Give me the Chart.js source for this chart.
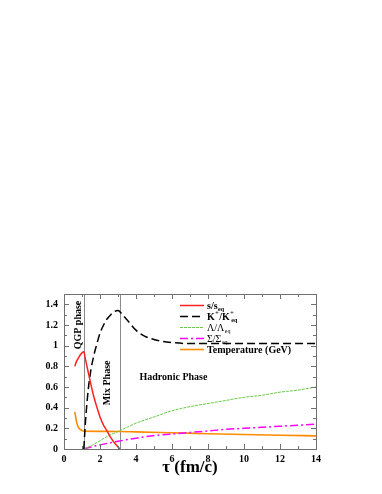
<!DOCTYPE html>
<html>
<head>
<meta charset="utf-8">
<script src="https://cdn.jsdelivr.net/npm/chart.js@4/dist/chart.umd.min.js"></script>
<style>
html,body{margin:0;padding:0;background:#fff;}
canvas{display:block;}
</style>
</head>
<body>
<canvas id="c" width="382" height="494"></canvas>
<script>
// ---- data ----
const tauS   = [0.6, 0.7, 0.8, 0.9, 1.0, 1.1, 1.2, 1.35, 1.5, 1.65, 1.8, 2.0, 2.2, 2.4, 2.6, 2.8, 3.0, 3.1];
const sRatio = [0.80, 0.85, 0.88, 0.91, 0.93, 0.94, 0.86, 0.74, 0.62, 0.51, 0.42, 0.31, 0.23, 0.17, 0.11, 0.06, 0.02, 0.0];

const tauK   = [1.1, 1.2, 1.35, 1.5, 1.65, 1.8, 2.0, 2.2, 2.4, 2.6, 2.8, 3.0, 3.2, 3.5, 4.0, 4.5, 5.0, 5.5, 6.0, 7.0, 8.0, 10, 12, 14];
const kRatio = [0.0, 0.28, 0.58, 0.77, 0.90, 1.00, 1.12, 1.20, 1.26, 1.30, 1.33, 1.34, 1.31, 1.25, 1.15, 1.09, 1.06, 1.04, 1.03, 1.02, 1.02, 1.02, 1.02, 1.02];

const tauL   = [1.1, 1.5, 2, 2.5, 3, 3.5, 4, 5, 6, 7, 8, 9, 10, 11, 12, 13, 14];
const lRatio = [0.0, 0.03, 0.08, 0.13, 0.17, 0.21, 0.25, 0.31, 0.37, 0.41, 0.44, 0.47, 0.50, 0.52, 0.55, 0.57, 0.60];

const tauSig   = [1.1, 1.5, 2, 3, 4, 5, 6, 7, 8, 9, 10, 11, 12, 13, 14];
const sigRatio = [0.0, 0.02, 0.04, 0.075, 0.105, 0.13, 0.145, 0.16, 0.175, 0.19, 0.20, 0.21, 0.22, 0.23, 0.24];

const tauT = [0.6, 0.65, 0.7, 0.8, 0.9, 1.0, 1.1, 2.0, 3.1, 4, 6, 8, 10, 12, 14];
const temp = [0.36, 0.31, 0.26, 0.21, 0.19, 0.178, 0.172, 0.171, 0.170, 0.166, 0.157, 0.148, 0.140, 0.133, 0.127];

const phaseBounds = [1.1, 3.1];           // QGP end, mixed-phase end
const xTicks = [0, 2, 4, 6, 8, 10, 12, 14];
const yTicks = [0, 0.2, 0.4, 0.6, 0.8, 1, 1.2, 1.4];

const labels = [
  {main:'s/s', sub:'eq', bold:true},
  {main:'K', sup:'+', mid:'/K', sup2:'+', sub:'eq', bold:true},
  {main:'\u039B/\u039B', sub:'eq', bold:false},
  {main:'\u03A3/\u03A3', sub:'eq', bold:false},
  {main:'Temperature (GeV)', sub:'', bold:true}
];
const phaseNotes = [
  {text:'QGP phase', x:0.79, y:1.20, rot:true},
  {text:'Mix Phase', x:2.43, y:0.64, rot:true},
  {text:'Hadronic Phase', x:6.08, y:0.69, rot:false}
];

const SERIF = '"Liberation Serif","Times New Roman",serif';
function pts(xs, ys){ return xs.map((x,i)=>({x:x, y:ys[i]})); }

const datasets = [
  {label:'s/s_eq', data:pts(tauS,sRatio), borderColor:'#ff2020', borderWidth:1.5, borderDash:[]},
  {label:'K/K_eq', data:pts(tauK,kRatio), borderColor:'#000000', borderWidth:1.5, borderDash:[8,4]},
  {label:'L/L_eq', data:pts(tauL,lRatio), borderColor:'#66cc44', borderWidth:1, borderDash:[3,1]},
  {label:'S/S_eq', data:pts(tauSig,sigRatio), borderColor:'#ff00ff', borderWidth:1.5, borderDash:[8,3,2,3]},
  {label:'T', data:pts(tauT,temp), borderColor:'#ff8c00', borderWidth:1.6, borderDash:[]}
].map(d=>Object.assign(d,{pointRadius:0, fill:false, cubicInterpolationMode:'monotone', showLine:true}));

const decor = {
  id:'decor',
  beforeDatasetsDraw(chart){
    const ctx = chart.ctx, xs = chart.scales.x, a = chart.chartArea;
    ctx.save();
    ctx.strokeStyle = '#8a8a8a'; ctx.lineWidth = 1;
    phaseBounds.forEach(v=>{
      const px = Math.round(xs.getPixelForValue(v))+0.5;
      ctx.beginPath(); ctx.moveTo(px, a.top); ctx.lineTo(px, a.bottom); ctx.stroke();
    });
    ctx.restore();
  },
  afterDatasetsDraw(chart){
    const ctx = chart.ctx, xs = chart.scales.x, ys = chart.scales.y, a = chart.chartArea;
    ctx.save();
    // frame
    ctx.strokeStyle = '#707070'; ctx.lineWidth = 1; ctx.setLineDash([]);
    ctx.strokeRect(Math.round(a.left)+0.5, Math.round(a.top)+0.5, Math.round(a.right-a.left), Math.round(a.bottom-a.top));
    // ticks inward
    ctx.beginPath();
    for (let v=0; v<=14; v+=1){
      const px = Math.round(xs.getPixelForValue(v))+0.5;
      const L = (v%2===0)?5:3;
      ctx.moveTo(px, a.bottom); ctx.lineTo(px, a.bottom-L);
      ctx.moveTo(px, a.top); ctx.lineTo(px, a.top+L);
    }
    for (let i=0; i<=15; i++){
      const v = i/10;
      const py = Math.round(ys.getPixelForValue(v))+0.5;
      const L = (i%2===0)?5:3;
      ctx.moveTo(a.left, py); ctx.lineTo(a.left+L, py);
      ctx.moveTo(a.right, py); ctx.lineTo(a.right-L, py);
    }
    ctx.stroke();

    // phase annotations
    ctx.fillStyle = '#000';
    ctx.font = 'bold 10px '+SERIF;
    ctx.textAlign = 'center'; ctx.textBaseline = 'middle';
    phaseNotes.forEach(n=>{
      const px = xs.getPixelForValue(n.x), py = ys.getPixelForValue(n.y);
      ctx.save(); ctx.translate(px, py);
      if (n.rot) ctx.rotate(-Math.PI/2);
      ctx.fillText(n.text, 0, 0);
      ctx.restore();
    });

    // legend
    const x0 = a.left + 116, x1 = x0 + 24, tx = x1 + 3;
    let y = a.top + 11;
    labels.forEach((lb, i)=>{
      const ds = chart.data.datasets[i];
      ctx.save();
      ctx.strokeStyle = ds.borderColor; ctx.lineWidth = ds.borderWidth;
      ctx.setLineDash(ds.borderDash||[]);
      ctx.beginPath(); ctx.moveTo(x0, y+0.5); ctx.lineTo(x1, y+0.5); ctx.stroke();
      ctx.restore();
      ctx.fillStyle = '#000';
      ctx.textAlign = 'left'; ctx.textBaseline = 'alphabetic';
      const w = lb.bold ? 'bold ' : '';
      const big = w+'10px '+SERIF, small = w+'6px '+SERIF;
      let cx = tx; const base = y+3.5;
      ctx.font = big; ctx.fillText(lb.main, cx, base); cx += ctx.measureText(lb.main).width;
      if (lb.sup){ ctx.font = small; ctx.fillText(lb.sup, cx+0.5, base-4.5); cx += ctx.measureText(lb.sup).width+1; }
      if (lb.mid){ ctx.font = big; ctx.fillText(lb.mid, cx, base); cx += ctx.measureText(lb.mid).width; }
      if (lb.sup2){ ctx.font = small; ctx.fillText(lb.sup2, cx+0.5, base-4.5); cx += 1; }
      if (lb.sub){ ctx.font = small; ctx.fillText(lb.sub, cx+0.5, base+2.5); }
      y += 11;
    });
    ctx.restore();
  }
};

new Chart(document.getElementById('c'), {
  type:'line',
  data:{datasets:datasets},
  options:{
    responsive:false, animation:false,
    layout:{padding:{left:0, top:294, right:66, bottom:0}},
    plugins:{legend:{display:false}, tooltip:{enabled:false}},
    scales:{
      x:{
        type:'linear', min:0, max:14,
        afterBuildTicks(s){ s.ticks = xTicks.map(v=>({value:v})); },
        afterFit(s){ s.height = 45; },
        grid:{display:false, drawTicks:false},
        border:{display:false},
        ticks:{padding:4, color:'#000', font:{family:SERIF, weight:'bold', size:10}, maxRotation:0,
               callback:v=>String(v)},
        title:{display:true, text:'\u03C4 (fm/c)', color:'#000', font:{family:SERIF, weight:'bold', size:17}, padding:{top:0, bottom:16}}
      },
      y:{
        type:'linear', min:0, max:1.5,
        afterBuildTicks(s){ s.ticks = yTicks.map(v=>({value:v})); },
        afterFit(s){ s.width = 64; },
        grid:{display:false, drawTicks:false},
        border:{display:false},
        ticks:{padding:6, color:'#000', font:{family:SERIF, weight:'bold', size:10},
               callback:v=>String(parseFloat(Number(v).toFixed(2)))}
      }
    }
  },
  plugins:[decor]
});
</script>
</body>
</html>
